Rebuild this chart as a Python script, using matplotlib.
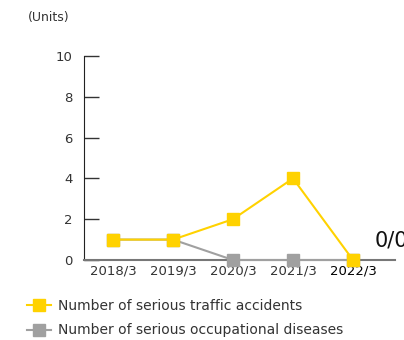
import matplotlib.pyplot as plt
from matplotlib.lines import Line2D

years = ["2018/3", "2019/3", "2020/3", "2021/3", "2022/3"]
traffic = [1, 1, 2, 4, 0]
occupational = [1, 1, 0, 0, 0]
yticks = [0, 2, 4, 6, 8, 10]

yellow = "#FFD200"
gray = "#A0A0A0"

fig = plt.figure(figsize=(4.04, 3.4), dpi=100)
ax = fig.add_axes([84 / 404, 80 / 340, (395 - 84) / 404, 204 / 340])

x = range(len(years))
ax.plot(x, occupational, color=gray, lw=1.5, marker="s", ms=8.5, zorder=3, clip_on=False)
ax.plot(x, traffic, color=yellow, lw=1.5, marker="s", ms=8.5, zorder=4, clip_on=False)

ax.set_xlim(-29 / 60, 282 / 60)
ax.set_ylim(0, 10)
ax.set_xticks(list(x))
ax.set_xticklabels(years, fontsize=9.5, color="#333333")
ax.get_xticklabels()[-1].set_color("#000000")
ax.get_xticklabels()[-1].set_fontweight("medium")
ax.set_yticks(yticks)
ax.tick_params(axis="y", direction="in", length=11, width=1, color="#333333",
               labelsize=9.5, labelcolor="#333333", pad=8)
ax.tick_params(axis="x", length=0, pad=3)

for s in ["top", "right"]:
    ax.spines[s].set_visible(False)
ax.spines["left"].set_color("#222222")
ax.spines["bottom"].set_color("#777777")
ax.spines["bottom"].set_linewidth(1.5)

fig.text(28 / 404, 1 - 18 / 340, "(Units)", fontsize=9, color="#333333", va="center")
fig.text(375 / 404, 1 - 240 / 340, "0/0", fontsize=15, color="#111111", va="center")

handles = [
    Line2D([], [], color=yellow, lw=1.5, marker="s", ms=8.5),
    Line2D([], [], color=gray, lw=1.5, marker="s", ms=8.5),
]
fig.legend(handles, ["Number of serious traffic accidents", "Number of serious occupational diseases"],
           loc="upper left", bbox_to_anchor=(27 / 404, 1 - 299 / 340), frameon=False,
           fontsize=10, labelcolor="#333333", handlelength=1.75, handletextpad=0.45,
           labelspacing=0.75, borderaxespad=0, borderpad=0)

fig.savefig("out.png", dpi=100)
